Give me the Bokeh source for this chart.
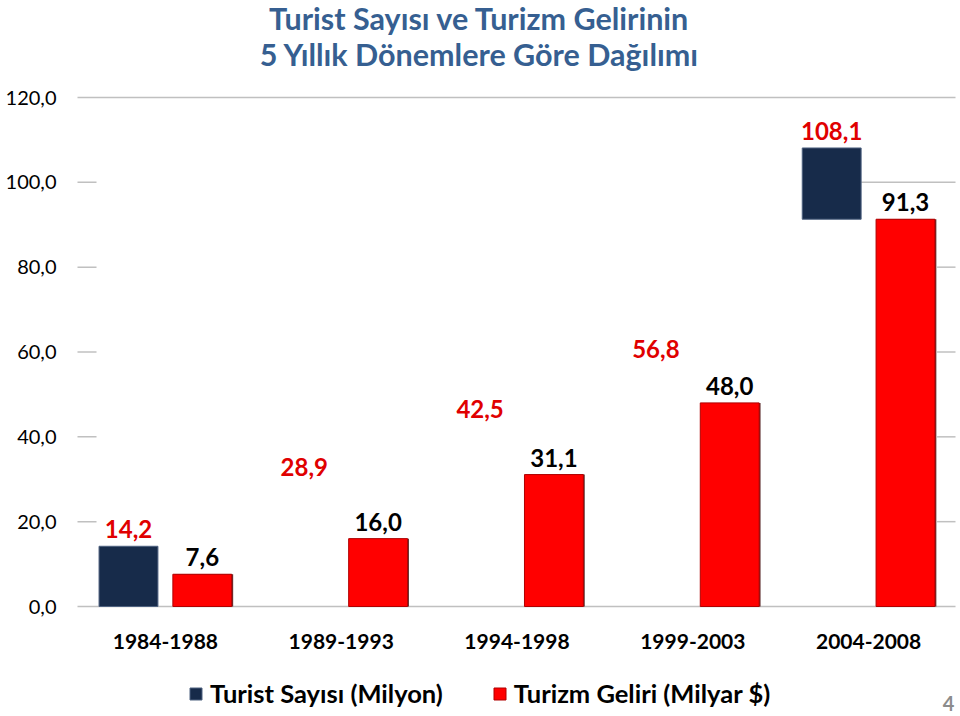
from bokeh.models import (Plot, Range1d, FixedTicker, Label, Legend, LegendItem,
                          ColumnDataSource, LinearAxis, VBar, HBar, Text)
from bokeh.embed import file_html
from bokeh.resources import INLINE
from bokeh.core.properties import value

# ---- data ----
periods = ["1984-1988", "1989-1993", "1994-1998", "1999-2003", "2004-2008"]
tourists = [14.2, 28.9, 42.5, 56.8, 108.1]   # Turist Sayısı (Milyon)
revenue = [7.6, 16.0, 31.1, 48.0, 91.3]      # Turizm Geliri (Milyar $)
y_ticks = [0, 20, 40, 60, 80, 100, 120]
y_tick_labels = ["0,0", "20,0", "40,0", "60,0", "80,0", "100,0", "120,0"]
series_names = ["Turist Sayısı (Milyon)", "Turizm Geliri (Milyar $)"]
title_lines = ["Turist Sayısı ve Turizm Gelirinin", "5 Yıllık Dönemlere Göre Dağılımı"]
page_number = "4"

FONT = "Lato"
NAVY = "#172B4A"
RED = "#FF0000"
TITLE_C = "#365F91"
LABEL_RED = "#E00000"
GRID_C = "#C0C0C0"

W, H = 960, 716
AX_L, AX_R, AX_T, AX_B = 77, 956, 97, 606
XMIN, XMAX, YMIN, YMAX = -0.5, 4.5, 0, 120
sx = (AX_R - AX_L) / (XMAX - XMIN)
sy = (AX_B - AX_T) / (YMAX - YMIN)

def px_x(px):
    return XMIN + (px - AX_L) / sx

def px_y(py):
    return YMIN + (AX_B - py) / sy

def fmt(v):
    return f"{v:.1f}".replace(".", ",")

off = 0.21
bw = 0.335
xs = list(range(len(periods)))

p = Plot(width=W, height=H,
         x_range=Range1d(px_x(0), px_x(W)), y_range=Range1d(px_y(H), px_y(0)),
         output_backend="svg", toolbar_location=None, min_border=0,
         outline_line_color=None)

# gridline pieces visible on the original slide
right_end = px_x(955)
stub_end = px_x(96)
navy_right = 4 - off + bw / 2
red_right = 4 + off + bw / 2 + 0.012
g_left, g_right, g_y = [], [], []
for t in y_ticks:
    if t in (0, 120):
        g_left.append(XMIN); g_right.append(right_end); g_y.append(t)
    else:
        g_left.append(XMIN); g_right.append(stub_end); g_y.append(t)
        g_left.append(navy_right if t == 100 else red_right)
        g_right.append(right_end); g_y.append(t)
grid_src = ColumnDataSource(dict(y=g_y, left=g_left, right=g_right))
p.add_glyph(grid_src, HBar(y="y", left="left", right="right", height=1.5 / sy,
                           fill_color=GRID_C, line_color=None))

# navy bars (visible parts)
navy_src = ColumnDataSource(dict(x=[xs[0] - off, xs[4] - off],
                                 top=[tourists[0], tourists[4]],
                                 bottom=[0, revenue[4]]))
navy_r = p.add_glyph(navy_src, VBar(x="x", top="top", bottom="bottom", width=bw,
                                    fill_color=NAVY, line_color="#4F6280", line_width=1))

# red bars with slight shadow
shadow_src = ColumnDataSource(dict(x=[x + off + 0.008 for x in xs], top=revenue))
p.add_glyph(shadow_src, VBar(x="x", top="top", bottom=0, width=bw,
                             fill_color="#3A0000", fill_alpha=0.8, line_color=None))
red_src = ColumnDataSource(dict(x=[x + off for x in xs], top=revenue))
red_r = p.add_glyph(red_src, VBar(x="x", top="top", bottom=0, width=bw,
                                  fill_color=RED, line_color="#B00000", line_width=1))

# data labels
nl_src = ColumnDataSource(dict(x=[x - off for x in xs], y=tourists,
                               t=[fmt(v) for v in tourists]))
p.add_glyph(nl_src, Text(x="x", y="y", text="t", text_font=value(FONT),
                         text_font_style="bold", text_font_size="24px",
                         text_color=LABEL_RED, text_align="center",
                         text_baseline="bottom", y_offset=-8))
rl_src = ColumnDataSource(dict(x=[x + off for x in xs], y=revenue,
                               t=[fmt(v) for v in revenue]))
p.add_glyph(rl_src, Text(x="x", y="y", text="t", text_font=value(FONT),
                         text_font_style="bold", text_font_size="24px",
                         text_color="black", text_align="center",
                         text_baseline="bottom", y_offset=-8))

# axes drawn at fixed data locations (no grids)
yaxis = LinearAxis(fixed_location=XMIN, ticker=FixedTicker(ticks=y_ticks),
                   major_label_overrides={t: l for t, l in zip(y_ticks, y_tick_labels)},
                   axis_line_color=None, major_tick_line_color=None,
                   minor_tick_line_color=None, major_tick_in=0, major_tick_out=0,
                   major_label_standoff=21, major_label_text_font=FONT,
                   major_label_text_font_size="20px", major_label_text_color="black")
p.add_layout(yaxis, "left")
xaxis = LinearAxis(fixed_location=YMIN, ticker=FixedTicker(ticks=xs),
                   major_label_overrides={x: l for x, l in zip(xs, periods)},
                   axis_line_color=None, major_tick_line_color=None,
                   minor_tick_line_color=None, major_tick_in=0, major_tick_out=0,
                   major_label_standoff=27, major_label_text_font=FONT,
                   major_label_text_font_style="bold",
                   major_label_text_font_size="21px", major_label_text_color="black")
p.add_layout(xaxis, "below")

# title
for line, cy in zip(title_lines, [17, 53]):
    p.add_layout(Label(x=px_x(479), y=px_y(cy), text=line, text_align="center",
                       text_baseline="middle", text_font=FONT, text_font_style="bold",
                       text_font_size="30.5px", text_color=TITLE_C))

# page number
p.add_layout(Label(x=px_x(948), y=px_y(703), text=page_number, text_align="center",
                   text_baseline="middle", text_font=FONT, text_font_style="bold",
                   text_font_size="20px", text_color="#8C8C8C"))

# legend
legend = Legend(items=[LegendItem(label=series_names[0], renderers=[navy_r]),
                       LegendItem(label=series_names[1], renderers=[red_r])],
                orientation="horizontal", location=(188, H - 708),
                padding=0, spacing=49, glyph_width=15, glyph_height=15,
                label_standoff=7, label_text_font=FONT, label_text_font_size="25.5px",
                label_text_font_style="bold",
                label_text_color="black", border_line_color=None,
                background_fill_alpha=0)
p.add_layout(legend)

open("out.html", "w").write(file_html(p, INLINE))
